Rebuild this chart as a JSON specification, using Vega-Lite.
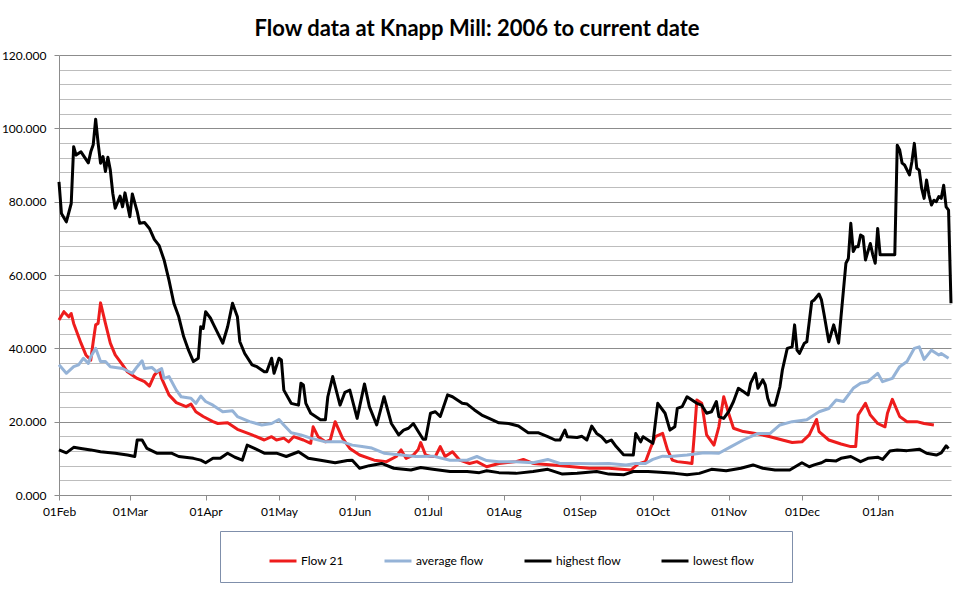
{
"$schema": "https://vega.github.io/schema/vega-lite/v6.json",
"autosize": {"type": "none"},
"width": 892,
"height": 440,
"padding": {"left": 59, "top": 55, "right": 17, "bottom": 118},
"background": "#ffffff",
"title": {"text": "Flow data at Knapp Mill: 2006 to current date", "font": "Lato", "fontSize": 22, "fontWeight": "bold", "color": "#000000", "anchor": "middle", "dx": -28, "offset": 8},
"datasets": {
"flow21": [
{"date":"2020-02-01","flow":47.7},{"date":"2020-02-03","flow":50},{"date":"2020-02-05","flow":48.6},{"date":"2020-02-06","flow":49.5},{"date":"2020-02-07","flow":46.8},{"date":"2020-02-10","flow":41.4},{"date":"2020-02-12","flow":38.2},{"date":"2020-02-14","flow":36.8},{"date":"2020-02-15","flow":41.8},{"date":"2020-02-16","flow":46.4},{"date":"2020-02-17","flow":46.8},{"date":"2020-02-18","flow":52.4},{"date":"2020-02-20","flow":46.8},{"date":"2020-02-22","flow":41.4},{"date":"2020-02-24","flow":38.2},{"date":"2020-02-27","flow":35.5},{"date":"2020-02-29","flow":33.6},
{"date":"2020-03-04","flow":31.8},{"date":"2020-03-07","flow":30.9},{"date":"2020-03-09","flow":29.7},{"date":"2020-03-11","flow":32.7},{"date":"2020-03-13","flow":34.1},{"date":"2020-03-14","flow":31.8},{"date":"2020-03-17","flow":27.3},{"date":"2020-03-20","flow":25.2},{"date":"2020-03-24","flow":24.1},{"date":"2020-03-26","flow":24.8},{"date":"2020-03-28","flow":22.7},{"date":"2020-03-31","flow":21.4},
{"date":"2020-04-04","flow":20},{"date":"2020-04-06","flow":19.5},{"date":"2020-04-10","flow":19.7},{"date":"2020-04-14","flow":17.9},{"date":"2020-04-20","flow":16.4},{"date":"2020-04-25","flow":15},{"date":"2020-04-28","flow":15.9},{"date":"2020-04-30","flow":15},
{"date":"2020-05-03","flow":15.5},{"date":"2020-05-05","flow":14.5},{"date":"2020-05-07","flow":15.9},{"date":"2020-05-11","flow":15},{"date":"2020-05-14","flow":14.1},{"date":"2020-05-15","flow":18.6},{"date":"2020-05-17","flow":15.9},{"date":"2020-05-20","flow":14.5},{"date":"2020-05-22","flow":15},{"date":"2020-05-24","flow":20},{"date":"2020-05-27","flow":15.5},{"date":"2020-05-30","flow":12.7},
{"date":"2020-06-03","flow":10.9},{"date":"2020-06-09","flow":9.5},{"date":"2020-06-14","flow":9.1},{"date":"2020-06-18","flow":10.5},{"date":"2020-06-20","flow":12.3},{"date":"2020-06-22","flow":10},{"date":"2020-06-25","flow":10.9},{"date":"2020-06-27","flow":12.4},{"date":"2020-06-28","flow":14.3},{"date":"2020-06-30","flow":10.9},
{"date":"2020-07-02","flow":10.5},{"date":"2020-07-04","flow":10.5},{"date":"2020-07-06","flow":13.2},{"date":"2020-07-08","flow":10.5},{"date":"2020-07-11","flow":11.8},{"date":"2020-07-14","flow":9.5},{"date":"2020-07-18","flow":8.6},{"date":"2020-07-21","flow":9.1},{"date":"2020-07-25","flow":7.7},{"date":"2020-07-30","flow":8.6},
{"date":"2020-08-06","flow":9.1},{"date":"2020-08-09","flow":9.7},{"date":"2020-08-13","flow":8.6},{"date":"2020-08-21","flow":8.2},{"date":"2020-08-29","flow":7.7},
{"date":"2020-09-05","flow":7.3},{"date":"2020-09-13","flow":7.3},{"date":"2020-09-22","flow":6.8},{"date":"2020-09-25","flow":8.5},{"date":"2020-09-28","flow":9.1},{"date":"2020-09-30","flow":12.7},
{"date":"2020-10-02","flow":15.9},{"date":"2020-10-05","flow":16.8},{"date":"2020-10-07","flow":12.3},{"date":"2020-10-09","flow":9.5},{"date":"2020-10-11","flow":9.1},{"date":"2020-10-15","flow":8.8},{"date":"2020-10-17","flow":8.6},{"date":"2020-10-18","flow":16.8},{"date":"2020-10-19","flow":25.9},{"date":"2020-10-21","flow":25},{"date":"2020-10-23","flow":16.4},{"date":"2020-10-26","flow":13.6},{"date":"2020-10-28","flow":18.6},{"date":"2020-10-30","flow":26.8},
{"date":"2020-11-01","flow":22.3},{"date":"2020-11-03","flow":18.2},{"date":"2020-11-07","flow":17.3},{"date":"2020-11-12","flow":16.8},{"date":"2020-11-18","flow":15.9},{"date":"2020-11-23","flow":15},{"date":"2020-11-27","flow":14.3},
{"date":"2020-12-01","flow":14.5},{"date":"2020-12-04","flow":16.4},{"date":"2020-12-07","flow":20.6},{"date":"2020-12-08","flow":17.3},{"date":"2020-12-12","flow":15},{"date":"2020-12-17","flow":13.9},{"date":"2020-12-21","flow":13.2},{"date":"2020-12-23","flow":13.2},{"date":"2020-12-24","flow":21.8},{"date":"2020-12-27","flow":25},{"date":"2020-12-29","flow":21.8},
{"date":"2021-01-01","flow":19.5},{"date":"2021-01-04","flow":18.6},{"date":"2021-01-05","flow":22.3},{"date":"2021-01-07","flow":26.1},{"date":"2021-01-10","flow":21.4},{"date":"2021-01-13","flow":20},{"date":"2021-01-17","flow":20},{"date":"2021-01-20","flow":19.5},{"date":"2021-01-24","flow":19.1}
],
"average": [
{"date":"2020-02-01","flow":35.5},{"date":"2020-02-04","flow":33.2},{"date":"2020-02-07","flow":35},{"date":"2020-02-09","flow":35.5},{"date":"2020-02-11","flow":37.3},{"date":"2020-02-13","flow":35.9},{"date":"2020-02-14","flow":37.7},{"date":"2020-02-16","flow":40},{"date":"2020-02-18","flow":36.4},{"date":"2020-02-20","flow":36.4},{"date":"2020-02-22","flow":35},{"date":"2020-02-27","flow":34.5},
{"date":"2020-03-02","flow":33.2},{"date":"2020-03-04","flow":35},{"date":"2020-03-06","flow":36.6},{"date":"2020-03-07","flow":34.5},{"date":"2020-03-10","flow":34.8},{"date":"2020-03-12","flow":33.6},{"date":"2020-03-14","flow":34.5},{"date":"2020-03-15","flow":31.8},{"date":"2020-03-17","flow":32.3},{"date":"2020-03-20","flow":28.6},{"date":"2020-03-22","flow":26.8},{"date":"2020-03-26","flow":26.4},{"date":"2020-03-28","flow":25},{"date":"2020-03-30","flow":27},
{"date":"2020-04-01","flow":25.5},{"date":"2020-04-04","flow":24.5},{"date":"2020-04-08","flow":22.7},{"date":"2020-04-12","flow":23},{"date":"2020-04-14","flow":21.4},{"date":"2020-04-19","flow":20},{"date":"2020-04-24","flow":19.1},{"date":"2020-04-28","flow":19.5},
{"date":"2020-05-01","flow":20.6},{"date":"2020-05-03","flow":19.1},{"date":"2020-05-06","flow":17},{"date":"2020-05-10","flow":16.4},{"date":"2020-05-14","flow":15.5},{"date":"2020-05-20","flow":14.5},{"date":"2020-05-27","flow":14.5},{"date":"2020-05-31","flow":13.6},
{"date":"2020-06-04","flow":13.2},{"date":"2020-06-08","flow":12.8},{"date":"2020-06-13","flow":11.4},{"date":"2020-06-20","flow":10.9},{"date":"2020-06-26","flow":10.5},
{"date":"2020-07-03","flow":10.6},{"date":"2020-07-10","flow":9.5},{"date":"2020-07-17","flow":9.5},{"date":"2020-07-21","flow":10.5},{"date":"2020-07-25","flow":9.4},{"date":"2020-07-30","flow":9.1},
{"date":"2020-08-06","flow":9.1},{"date":"2020-08-13","flow":8.8},{"date":"2020-08-19","flow":9.7},{"date":"2020-08-24","flow":8.6},{"date":"2020-08-31","flow":8.6},
{"date":"2020-09-07","flow":8.5},{"date":"2020-09-13","flow":8.6},{"date":"2020-09-20","flow":8.2},{"date":"2020-09-24","flow":8.6},{"date":"2020-09-28","flow":8.6},
{"date":"2020-10-01","flow":9.7},{"date":"2020-10-05","flow":10.6},{"date":"2020-10-08","flow":10.5},{"date":"2020-10-15","flow":10.9},{"date":"2020-10-22","flow":11.5},{"date":"2020-10-28","flow":11.4},
{"date":"2020-11-02","flow":13.2},{"date":"2020-11-07","flow":15},{"date":"2020-11-13","flow":16.8},{"date":"2020-11-18","flow":16.8},{"date":"2020-11-22","flow":19.1},{"date":"2020-11-27","flow":20},
{"date":"2020-12-03","flow":20.5},{"date":"2020-12-08","flow":22.7},{"date":"2020-12-12","flow":23.6},{"date":"2020-12-15","flow":25.9},{"date":"2020-12-18","flow":25.5},{"date":"2020-12-22","flow":29.1},{"date":"2020-12-25","flow":30.5},{"date":"2020-12-28","flow":30.9},
{"date":"2021-01-01","flow":33.2},{"date":"2021-01-03","flow":30.9},{"date":"2021-01-07","flow":31.8},{"date":"2021-01-10","flow":35},{"date":"2021-01-13","flow":36.4},{"date":"2021-01-16","flow":40},{"date":"2021-01-18","flow":40.4},{"date":"2021-01-20","flow":37},{"date":"2021-01-23","flow":39.5},{"date":"2021-01-26","flow":38.2},{"date":"2021-01-27","flow":38.6},{"date":"2021-01-30","flow":37.3}
],
"highest": [
{"date":"2020-02-01","flow":85.4},{"date":"2020-02-02","flow":76.8},{"date":"2020-02-04","flow":74.5},{"date":"2020-02-06","flow":79.5},{"date":"2020-02-07","flow":95},{"date":"2020-02-08","flow":92.7},{"date":"2020-02-10","flow":93.6},{"date":"2020-02-13","flow":90.6},{"date":"2020-02-14","flow":93.6},{"date":"2020-02-15","flow":95.5},{"date":"2020-02-16","flow":102.5},{"date":"2020-02-17","flow":96},{"date":"2020-02-18","flow":90.5},{"date":"2020-02-19","flow":92.3},{"date":"2020-02-20","flow":88.2},{"date":"2020-02-21","flow":92.1},{"date":"2020-02-22","flow":88.6},{"date":"2020-02-23","flow":82.3},{"date":"2020-02-24","flow":78.2},{"date":"2020-02-26","flow":81.5},{"date":"2020-02-27","flow":78.6},{"date":"2020-02-28","flow":82.4},
{"date":"2020-03-01","flow":75.9},{"date":"2020-03-02","flow":82.1},{"date":"2020-03-04","flow":77.3},{"date":"2020-03-05","flow":74.1},{"date":"2020-03-07","flow":74.3},{"date":"2020-03-09","flow":72.7},{"date":"2020-03-11","flow":69.7},{"date":"2020-03-13","flow":68},{"date":"2020-03-15","flow":64.1},{"date":"2020-03-17","flow":58.6},{"date":"2020-03-19","flow":52.3},{"date":"2020-03-21","flow":48.6},{"date":"2020-03-23","flow":43.2},{"date":"2020-03-25","flow":39.5},{"date":"2020-03-27","flow":36.4},{"date":"2020-03-29","flow":37.3},{"date":"2020-03-30","flow":45.9},{"date":"2020-03-31","flow":45.4},
{"date":"2020-04-01","flow":50},{"date":"2020-04-03","flow":48.2},{"date":"2020-04-04","flow":46.8},{"date":"2020-04-08","flow":41.4},{"date":"2020-04-10","flow":45.9},{"date":"2020-04-12","flow":52.3},{"date":"2020-04-14","flow":48.6},{"date":"2020-04-15","flow":41.8},{"date":"2020-04-17","flow":38.6},{"date":"2020-04-20","flow":35.5},{"date":"2020-04-22","flow":35},{"date":"2020-04-25","flow":33.6},{"date":"2020-04-26","flow":33.6},{"date":"2020-04-28","flow":37.3},{"date":"2020-04-29","flow":33.2},
{"date":"2020-05-01","flow":37.3},{"date":"2020-05-02","flow":36.8},{"date":"2020-05-03","flow":28.6},{"date":"2020-05-06","flow":25},{"date":"2020-05-09","flow":24.5},{"date":"2020-05-10","flow":30.5},{"date":"2020-05-11","flow":30},{"date":"2020-05-12","flow":25},{"date":"2020-05-14","flow":22.3},{"date":"2020-05-18","flow":20.5},{"date":"2020-05-20","flow":20.5},{"date":"2020-05-21","flow":26.8},{"date":"2020-05-23","flow":32.3},{"date":"2020-05-26","flow":24.5},{"date":"2020-05-28","flow":28},{"date":"2020-05-30","flow":28.6},
{"date":"2020-06-02","flow":20.9},{"date":"2020-06-05","flow":30.3},{"date":"2020-06-07","flow":24.1},{"date":"2020-06-10","flow":19.1},{"date":"2020-06-13","flow":26.8},{"date":"2020-06-16","flow":19.5},{"date":"2020-06-19","flow":16.4},{"date":"2020-06-21","flow":17.7},{"date":"2020-06-23","flow":18.2},{"date":"2020-06-25","flow":19.5},{"date":"2020-06-27","flow":17.3},{"date":"2020-06-29","flow":15.2},{"date":"2020-06-30","flow":15.2},
{"date":"2020-07-02","flow":22.3},{"date":"2020-07-04","flow":22.7},{"date":"2020-07-06","flow":21.4},{"date":"2020-07-09","flow":27.3},{"date":"2020-07-11","flow":26.8},{"date":"2020-07-15","flow":25},{"date":"2020-07-17","flow":24.8},{"date":"2020-07-20","flow":23.2},{"date":"2020-07-23","flow":21.8},{"date":"2020-07-26","flow":20.9},{"date":"2020-07-30","flow":19.7},
{"date":"2020-08-03","flow":19.5},{"date":"2020-08-07","flow":18.8},{"date":"2020-08-11","flow":17},{"date":"2020-08-15","flow":17},{"date":"2020-08-19","flow":15.9},{"date":"2020-08-22","flow":15},{"date":"2020-08-24","flow":15},{"date":"2020-08-26","flow":17.7},{"date":"2020-08-27","flow":15.9},{"date":"2020-08-31","flow":15.7},
{"date":"2020-09-02","flow":16},{"date":"2020-09-04","flow":15},{"date":"2020-09-06","flow":18.8},{"date":"2020-09-08","flow":16.8},{"date":"2020-09-10","flow":15.9},{"date":"2020-09-12","flow":14.4},{"date":"2020-09-14","flow":15},{"date":"2020-09-16","flow":13.2},{"date":"2020-09-19","flow":11},{"date":"2020-09-23","flow":10.9},{"date":"2020-09-24","flow":16.8},{"date":"2020-09-26","flow":14.5},{"date":"2020-09-27","flow":15.9},{"date":"2020-09-29","flow":15},
{"date":"2020-10-01","flow":14.1},{"date":"2020-10-03","flow":25},{"date":"2020-10-06","flow":22.3},{"date":"2020-10-08","flow":17.7},{"date":"2020-10-10","flow":18.6},{"date":"2020-10-11","flow":23.6},{"date":"2020-10-13","flow":24.1},{"date":"2020-10-15","flow":26.8},{"date":"2020-10-17","flow":25.9},{"date":"2020-10-19","flow":25},{"date":"2020-10-21","flow":24.5},{"date":"2020-10-23","flow":22.3},{"date":"2020-10-25","flow":22.7},{"date":"2020-10-27","flow":25.5},{"date":"2020-10-28","flow":21.4},{"date":"2020-10-30","flow":20.9},
{"date":"2020-11-01","flow":22.7},{"date":"2020-11-03","flow":25.5},{"date":"2020-11-05","flow":29.1},{"date":"2020-11-07","flow":28.2},{"date":"2020-11-09","flow":27.3},{"date":"2020-11-10","flow":30.5},{"date":"2020-11-12","flow":33.2},{"date":"2020-11-13","flow":29.1},{"date":"2020-11-15","flow":31.4},{"date":"2020-11-16","flow":30},{"date":"2020-11-17","flow":26.4},{"date":"2020-11-18","flow":24.5},{"date":"2020-11-20","flow":24.5},{"date":"2020-11-22","flow":29.5},{"date":"2020-11-23","flow":34.1},{"date":"2020-11-25","flow":40},{"date":"2020-11-27","flow":40.4},{"date":"2020-11-28","flow":46.4},{"date":"2020-11-29","flow":39.5},{"date":"2020-11-30","flow":38.6},
{"date":"2020-12-02","flow":41.4},{"date":"2020-12-03","flow":41.8},{"date":"2020-12-05","flow":52.7},{"date":"2020-12-06","flow":53.2},{"date":"2020-12-08","flow":54.8},{"date":"2020-12-09","flow":53.2},{"date":"2020-12-10","flow":49.5},{"date":"2020-12-12","flow":41.8},{"date":"2020-12-14","flow":46.4},{"date":"2020-12-16","flow":41.4},{"date":"2020-12-19","flow":63.2},{"date":"2020-12-20","flow":64.5},{"date":"2020-12-21","flow":74.1},{"date":"2020-12-22","flow":66.4},{"date":"2020-12-23","flow":67.7},{"date":"2020-12-24","flow":67.7},{"date":"2020-12-25","flow":70.9},{"date":"2020-12-26","flow":70.5},{"date":"2020-12-27","flow":64.1},{"date":"2020-12-28","flow":66.4},{"date":"2020-12-29","flow":68.6},{"date":"2020-12-30","flow":65.5},{"date":"2020-12-31","flow":63.2},
{"date":"2021-01-01","flow":72.7},{"date":"2021-01-02","flow":65.5},{"date":"2021-01-08","flow":65.5},{"date":"2021-01-09","flow":95.4},{"date":"2021-01-10","flow":94.1},{"date":"2021-01-11","flow":90.5},{"date":"2021-01-12","flow":90},{"date":"2021-01-14","flow":87.3},{"date":"2021-01-15","flow":90.9},{"date":"2021-01-16","flow":95.9},{"date":"2021-01-17","flow":89.1},{"date":"2021-01-18","flow":88.6},{"date":"2021-01-19","flow":83.6},{"date":"2021-01-20","flow":80.9},{"date":"2021-01-21","flow":85.9},{"date":"2021-01-22","flow":81.8},{"date":"2021-01-23","flow":79.1},{"date":"2021-01-24","flow":80.4},{"date":"2021-01-25","flow":80},{"date":"2021-01-26","flow":81.4},{"date":"2021-01-27","flow":80.9},{"date":"2021-01-28","flow":84.5},{"date":"2021-01-29","flow":78.6},{"date":"2021-01-30","flow":77.7},{"date":"2021-01-31","flow":52.3}
],
"lowest": [
{"date":"2020-02-01","flow":12.3},{"date":"2020-02-04","flow":11.5},{"date":"2020-02-07","flow":13},{"date":"2020-02-10","flow":12.7},{"date":"2020-02-14","flow":12.3},{"date":"2020-02-18","flow":11.8},{"date":"2020-02-24","flow":11.4},{"date":"2020-02-29","flow":10.9},
{"date":"2020-03-03","flow":10.5},{"date":"2020-03-04","flow":15},{"date":"2020-03-06","flow":15},{"date":"2020-03-08","flow":12.7},{"date":"2020-03-12","flow":11.4},{"date":"2020-03-18","flow":11.4},{"date":"2020-03-21","flow":10.5},{"date":"2020-03-27","flow":10},{"date":"2020-03-30","flow":9.5},
{"date":"2020-04-01","flow":8.8},{"date":"2020-04-04","flow":10},{"date":"2020-04-07","flow":10},{"date":"2020-04-10","flow":11.4},{"date":"2020-04-13","flow":10.3},{"date":"2020-04-16","flow":9.5},{"date":"2020-04-18","flow":13.6},{"date":"2020-04-21","flow":12.7},{"date":"2020-04-25","flow":11.4},{"date":"2020-04-30","flow":11.4},
{"date":"2020-05-04","flow":10.5},{"date":"2020-05-09","flow":11.8},{"date":"2020-05-13","flow":10},{"date":"2020-05-18","flow":9.5},{"date":"2020-05-24","flow":8.8},{"date":"2020-05-29","flow":9.4},{"date":"2020-05-31","flow":9.5},
{"date":"2020-06-03","flow":7.3},{"date":"2020-06-07","flow":8},{"date":"2020-06-12","flow":8.6},{"date":"2020-06-17","flow":7.3},{"date":"2020-06-24","flow":6.8},{"date":"2020-06-28","flow":7.5},
{"date":"2020-07-03","flow":7},{"date":"2020-07-10","flow":6.4},{"date":"2020-07-17","flow":6.4},{"date":"2020-07-22","flow":6.1},{"date":"2020-07-25","flow":6.6},{"date":"2020-07-30","flow":6.1},
{"date":"2020-08-06","flow":5.9},{"date":"2020-08-13","flow":6.4},{"date":"2020-08-19","flow":7},{"date":"2020-08-25","flow":5.7},{"date":"2020-08-31","flow":5.9},
{"date":"2020-09-08","flow":6.4},{"date":"2020-09-13","flow":5.7},{"date":"2020-09-19","flow":5.5},{"date":"2020-09-23","flow":6.4},{"date":"2020-09-29","flow":6.4},
{"date":"2020-10-04","flow":6.2},{"date":"2020-10-10","flow":5.9},{"date":"2020-10-15","flow":5.5},{"date":"2020-10-20","flow":5.9},{"date":"2020-10-25","flow":7},{"date":"2020-10-31","flow":6.6},
{"date":"2020-11-06","flow":7.3},{"date":"2020-11-11","flow":8.2},{"date":"2020-11-15","flow":7.3},{"date":"2020-11-20","flow":6.8},{"date":"2020-11-26","flow":6.8},
{"date":"2020-12-01","flow":8.8},{"date":"2020-12-04","flow":7.7},{"date":"2020-12-06","flow":8.2},{"date":"2020-12-09","flow":8.8},{"date":"2020-12-11","flow":9.5},{"date":"2020-12-15","flow":9.3},{"date":"2020-12-17","flow":10},{"date":"2020-12-21","flow":10.5},{"date":"2020-12-25","flow":9.1},{"date":"2020-12-28","flow":10},
{"date":"2021-01-01","flow":10.3},{"date":"2021-01-03","flow":9.7},{"date":"2021-01-06","flow":12},{"date":"2021-01-09","flow":12.3},{"date":"2021-01-13","flow":12.1},{"date":"2021-01-18","flow":12.5},{"date":"2021-01-21","flow":11.4},{"date":"2021-01-25","flow":10.9},{"date":"2021-01-27","flow":11.5},{"date":"2021-01-29","flow":13.4},{"date":"2021-01-30","flow":12.7}
]
},
"encoding": {
"x": {"field": "date", "type": "temporal",
 "scale": {"type": "utc", "domain": [{"year": 2020, "month": 2, "date": 1, "utc": true}, {"year": 2021, "month": 1, "date": 31, "utc": true}]},
 "axis": {"title": null, "format": "%d%b", "tickCount": {"interval": "month", "step": 1}, "grid": false, "tickSize": 5, "tickColor": "#8c8c8c", "domainColor": "#8c8c8c", "labelPadding": 6, "labelFont": "Lato", "labelFontSize": 12, "labelColor": "#000000", "labelFlush": false, "labelOverlap": false}},
"y": {"field": "flow", "type": "quantitative",
 "scale": {"domain": [0, 120], "nice": false},
 "axis": {"title": null, "values": [0,4,8,12,16,20,24,28,32,36,40,44,48,52,56,60,64,68,72,76,80,84,88,92,96,100,104,108,112,116,120], "format": ".3f", "labelExpr": "datum.value % 20 === 0 ? datum.label : ''",
  "grid": true, "gridColor": {"condition": {"test": "datum.value % 20 === 0", "value": "#8c8c8c"}, "value": "#bdbdbd"}, "gridWidth": 1,
  "tickOpacity": {"condition": {"test": "datum.value % 20 === 0", "value": 1}, "value": 0},
  "tickSize": 5, "tickColor": "#8c8c8c", "domainColor": "#8c8c8c", "labelPadding": 8, "labelFont": "Lato", "labelFontSize": 12, "labelColor": "#000000", "labelOverlap": false}}
},
"layer": [
{"data": {"name": "flow21"}, "mark": {"type": "line", "strokeWidth": 3, "strokeJoin": "round"},
 "encoding": {"color": {"datum": "Flow 21", "type": "nominal", "scale": {"domain": ["Flow 21", "average flow", "highest flow", "lowest flow"], "range": ["#ee1c1c", "#95b3d7", "#000000", "#000000"]}, "title": " "}}},
{"data": {"name": "average"}, "mark": {"type": "line", "strokeWidth": 3, "strokeJoin": "round"},
 "encoding": {"color": {"datum": "average flow", "type": "nominal", "title": " "}}},
{"data": {"name": "highest"}, "mark": {"type": "line", "strokeWidth": 3, "strokeJoin": "round"},
 "encoding": {"color": {"datum": "highest flow", "type": "nominal", "title": " "}}},
{"data": {"name": "lowest"}, "mark": {"type": "line", "strokeWidth": 3, "strokeJoin": "round"},
 "encoding": {"color": {"datum": "lowest flow", "type": "nominal", "title": " "}}}
],
"config": {
"view": {"stroke": null},
"font": "Lato",
"legend": {"orient": "none", "legendX": 161, "legendY": 476, "direction": "horizontal", "columns": 4,
 "symbolType": "stroke", "symbolSize": 729, "symbolStrokeWidth": 3, "symbolOffset": 33, "labelOffset": 3,
 "columnPadding": 6, "padding": 15, "strokeColor": "#7f8fab", "fillColor": "#ffffff",
 "labelFont": "Lato", "labelFontSize": 12, "labelColor": "#000000", "labelLimit": 200,
 "titleOrient": "right", "titlePadding": 23, "titleFontSize": 12}
}
}
